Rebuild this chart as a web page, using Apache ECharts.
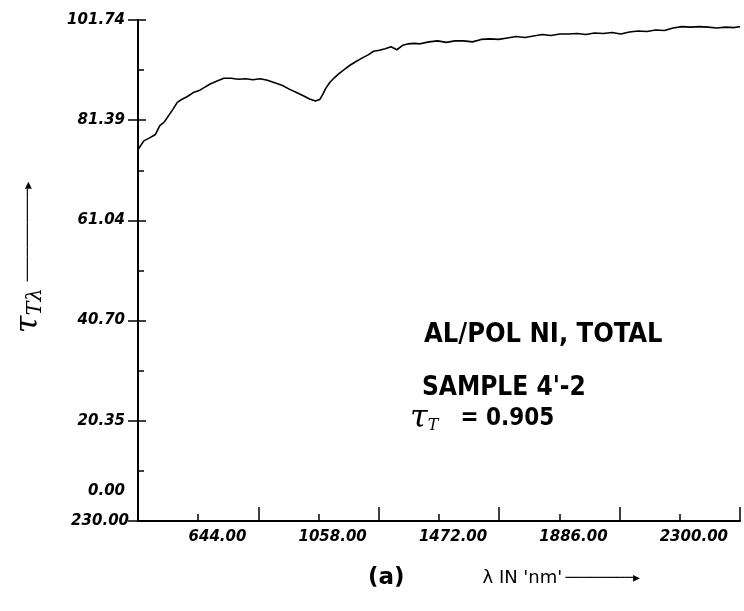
<!DOCTYPE html>
<html>
<head>
<meta charset="utf-8">
<script src="https://cdn.jsdelivr.net/npm/echarts@6/dist/echarts.min.js"></script>
<style>
  html, body { margin: 0; padding: 0; background: #fff; }
  #chart { width: 744px; height: 611px; }
</style>
</head>
<body>
<div id="chart"></div>
<script>
// wavelength (nm) and total transmittance
const wavelengths = [232, 250, 270, 290, 305, 320, 335, 350, 365, 380, 400, 420, 440, 460, 480, 500,
  525, 550, 575, 600, 625, 650, 675, 700, 725, 750, 775, 800, 820, 840, 855, 865, 875, 890, 905, 920,
  940, 960, 980, 1000, 1020, 1040, 1060, 1080, 1100, 1120, 1140, 1160, 1180, 1200, 1230, 1260, 1290,
  1320, 1350, 1380, 1410, 1440, 1470, 1500, 1530, 1560, 1590, 1620, 1650, 1680, 1710, 1740, 1770,
  1800, 1830, 1860, 1890, 1920, 1950, 1980, 2010, 2040, 2070, 2100, 2130, 2160, 2190, 2220, 2250,
  2280, 2300]
const transmittance = [75.6, 77.2, 77.8, 78.5, 80.3, 81.0, 82.3, 83.6, 85.0, 85.6, 86.2, 87.0, 87.4,
  88.1, 88.8, 89.3, 89.9, 89.9, 89.7, 89.8, 89.6, 89.8, 89.5, 89.0, 88.5, 87.7, 87.0, 86.3, 85.7,
  85.3, 85.6, 86.6, 87.8, 89.1, 90.0, 90.8, 91.7, 92.6, 93.3, 94.0, 94.6, 95.4, 95.6, 95.9, 96.3,
  95.7, 96.6, 96.9, 97.0, 96.9, 97.3, 97.5, 97.2, 97.5, 97.5, 97.3, 97.8, 97.9, 97.8, 98.1, 98.4,
  98.2, 98.5, 98.8, 98.6, 98.9, 98.9, 99.0, 98.8, 99.1, 99.0, 99.2, 98.9, 99.3, 99.5, 99.4, 99.7,
  99.6, 100.1, 100.4, 100.3, 100.4, 100.3, 100.1, 100.3, 100.2, 100.4]

// axis range / tick labels as printed
const xMin = 230
const xMax = 2300
const xStep = 414
const xTickLabels = ['230.00', '644.00', '1058.00', '1472.00', '1886.00', '2300.00']
const yMax = 101.74
const yTickLabels = ['0.00', '20.35', '40.70', '61.04', '81.39', '101.74']

const labelFont = {
  color: '#000',
  fontFamily: 'DejaVu Sans, sans-serif',
  fontWeight: 'bold',
  fontStyle: 'italic',
  fontSize: 15,
}

const chart = echarts.init(document.getElementById('chart'))

const xLabel = (v) => xTickLabels[Math.round((v - xMin) / xStep)] || ''
const yLabel = (v) => yTickLabels[Math.round(v / (yMax / 5))] || ''

const option = {
  animation: false,
  backgroundColor: '#fff',
  grid: { left: 138, right: 4, top: 20, bottom: 90, outerBoundsMode: 'none' },
  xAxis: [
    {
      type: 'value',
      min: xMin,
      max: xMax,
      interval: xStep,
      splitLine: { show: false },
      axisLine: { onZero: false, lineStyle: { color: '#000', width: 2 } },
      axisTick: { inside: true, length: 14, lineStyle: { color: '#000', width: 1.5 } },
      minorTick: { show: true, splitNumber: 2, length: 7, lineStyle: { color: '#000', width: 1.5 } },
      axisLabel: {
        ...labelFont,
        showMinLabel: false,
        align: 'right',
        verticalAlign: 'top',
        margin: 9,
        padding: [0, 12, 0, 0],
        formatter: (v) => (v === xMin ? '' : xLabel(v)),
      },
      name: "{a|(a)}{g| }{b|λ IN 'nm'} {c|────────▸}",
      nameLocation: 'end',
      nameGap: -100,
      nameTextStyle: {
        align: 'right',
        verticalAlign: 'top',
        padding: [46, 0, 0, 0],
        rich: {
          a: { fontFamily: 'DejaVu Sans', fontWeight: 'bold', fontSize: 23, color: '#000' },
          g: { width: 78 },
          b: { fontFamily: 'DejaVu Sans', fontSize: 18, color: '#000' },
          c: { fontFamily: 'DejaVu Sans', fontSize: 14, color: '#000' },
        },
      },
    },
    {
      // origin label sits level with the x axis, left of the corner
      type: 'value',
      position: 'bottom',
      min: xMin,
      max: xMax,
      interval: xStep,
      splitLine: { show: false },
      axisLine: { show: false },
      axisTick: { show: false },
      axisLabel: {
        ...labelFont,
        align: 'right',
        verticalAlign: 'middle',
        margin: 0,
        padding: [0, 9, 0, 0],
        formatter: (v) => (v === xMin ? xLabel(v) : ''),
      },
    },
  ],
  yAxis: [
    {
      type: 'value',
      min: 0,
      max: yMax,
      interval: yMax / 5,
      splitLine: { show: false },
      axisLine: { lineStyle: { color: '#000', width: 2 } },
      axisTick: { length: 10, lineStyle: { color: '#000', width: 1.5 } },
      axisLabel: {
        ...labelFont,
        margin: 13,
        formatter: (v) => (v === 0 ? '{z|' + yLabel(v) + '}' : yLabel(v)),
        rich: {
          z: { ...labelFont, padding: [0, 0, 60, 0] },
        },
      },
      name: '{t|τ}{s|Tλ}  {a|───────────▸}',
      nameLocation: 'middle',
      nameRotate: 90,
      nameGap: 92,
      nameTextStyle: {
        padding: [0, 0, 0, 26],
        rich: {
          t: { fontFamily: 'DejaVu Serif', fontStyle: 'italic', fontSize: 32, color: '#000' },
          s: { fontFamily: 'DejaVu Serif', fontStyle: 'italic', fontSize: 21, color: '#000', padding: [14, 0, 0, 0] },
          a: { fontFamily: 'DejaVu Sans', fontSize: 14, color: '#000' },
        },
      },
    },
    {
      type: 'value',
      position: 'left',
      min: 0,
      max: yMax,
      interval: yMax / 5,
      splitLine: { show: false },
      axisLine: { show: false },
      axisLabel: { show: false },
      axisTick: { inside: true, length: 8, lineStyle: { color: '#000', width: 1.5 } },
      minorTick: { show: true, splitNumber: 2, length: 6, lineStyle: { color: '#000', width: 1.5 } },
    },
  ],
  series: [
    {
      type: 'line',
      xAxisIndex: 0,
      yAxisIndex: 0,
      showSymbol: false,
      lineStyle: { color: '#000', width: 1.6 },
      data: wavelengths.map((w, i) => [w, transmittance[i]]),
    },
  ],
  graphic: [
    {
      type: 'text',
      left: 424,
      top: 321,
      style: { text: 'AL/POL NI, TOTAL', font: 'bold 27px "DejaVu Sans Condensed", "DejaVu Sans"', fill: '#000' },
    },
    {
      type: 'text',
      left: 422,
      top: 375,
      style: { text: "SAMPLE 4'-2", font: 'bold 26px "DejaVu Sans Condensed", "DejaVu Sans"', fill: '#000' },
    },
    {
      type: 'text',
      left: 410,
      top: 403,
      style: {
        text: '{t|τ}{s|T}{g| }{v|= 0.905}',
        rich: {
          t: { fontFamily: 'DejaVu Serif', fontStyle: 'italic', fontSize: 32, fill: '#000' },
          s: { fontFamily: 'DejaVu Serif', fontStyle: 'italic', fontSize: 16, fill: '#000', padding: [14, 0, 0, 0] },
          g: { width: 22 },
          v: { fontFamily: 'DejaVu Sans Condensed, DejaVu Sans', fontWeight: 'bold', fontSize: 24, fill: '#000' },
        },
      },
    },
  ],
}

chart.setOption(option)
</script>
</body>
</html>
